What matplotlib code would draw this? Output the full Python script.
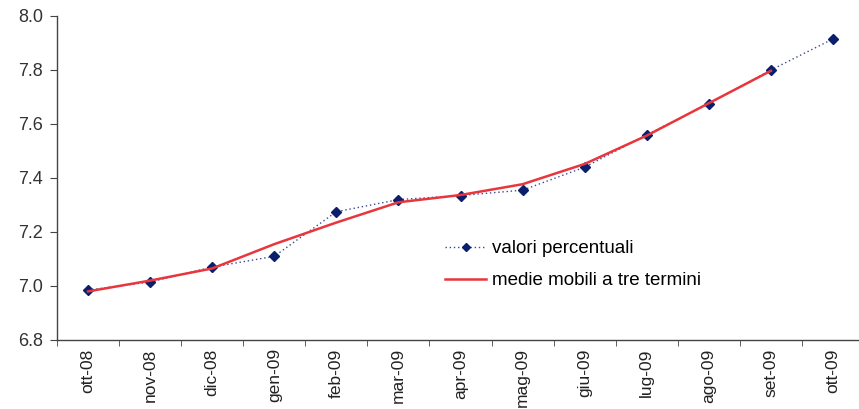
import matplotlib
matplotlib.use("Agg")
import matplotlib.pyplot as plt
from matplotlib.lines import Line2D

plt.rcParams['font.family'] = ['Liberation Sans', 'DejaVu Sans']

months = ['ott-08', 'nov-08', 'dic-08', 'gen-09', 'feb-09', 'mar-09', 'apr-09',
          'mag-09', 'giu-09', 'lug-09', 'ago-09', 'set-09', 'ott-09']
valori = [6.985, 7.015, 7.07, 7.11, 7.275, 7.32, 7.335, 7.355, 7.44, 7.56,
          7.675, 7.80, 7.915]
# moving average: no value for the last month
medie = [6.98, 7.02, 7.065, 7.155, 7.235, 7.31, 7.337, 7.377, 7.452, 7.557,
         7.677, 7.797]

navy = '#0c1f6e'
red = '#e8363c'

fig = plt.figure(figsize=(8.59, 4.09), dpi=100)
ax = fig.add_axes([57 / 859, 1 - 340 / 409, (864 - 57) / 859, 324 / 409])

x = list(range(len(months)))
ax.plot(x, valori, linestyle=(0, (1, 2)), color='#3a4a8e', linewidth=1.0,
        marker='D', markersize=5, markerfacecolor=navy, markeredgecolor=navy,
        zorder=2)
ax.plot(x[:len(medie)], medie, color=red, linewidth=1.8, zorder=3)

ax.set_xlim(-0.5, len(months) - 0.5)
ax.set_ylim(6.8, 8.0)
ax.set_yticks([6.8, 7.0, 7.2, 7.4, 7.6, 7.8, 8.0])
ax.set_yticklabels(['6.8', '7.0', '7.2', '7.4', '7.6', '7.8', '8.0'])

ax.set_xticks(x)
ax.set_xticklabels(months, rotation=90)
ax.set_xticks([i + 0.5 for i in range(-1, len(months))], minor=True)
ax.tick_params(axis='x', which='major', length=0, pad=6, labelsize=12.5,
               labelcolor='#222222')
ax.tick_params(axis='x', which='minor', length=4, direction='out',
               color='#444444')
ax.tick_params(axis='y', length=5, pad=5, labelsize=13, color='#444444',
               labelcolor='#333333')

for s in ['top', 'right']:
    ax.spines[s].set_visible(False)
for s in ['left', 'bottom']:
    ax.spines[s].set_color('#444444')
    ax.spines[s].set_linewidth(1.0)

handles = [
    Line2D([], [], linestyle=(0, (1, 2)), color='#3a4a8e', linewidth=1.0,
           marker='D', markersize=4, markerfacecolor=navy, markeredgecolor=navy),
    Line2D([], [], color=red, linewidth=1.8),
]
fig.legend(handles, ['valori percentuali', 'medie mobili a tre termini'],
           loc='upper left', bbox_to_anchor=(445 / 859, 1 - 240 / 409),
           frameon=False, fontsize=13.5, handlelength=2.2, handletextpad=0.3,
           labelspacing=0.8, borderpad=0, borderaxespad=0)

fig.savefig('out.png', dpi=100)
